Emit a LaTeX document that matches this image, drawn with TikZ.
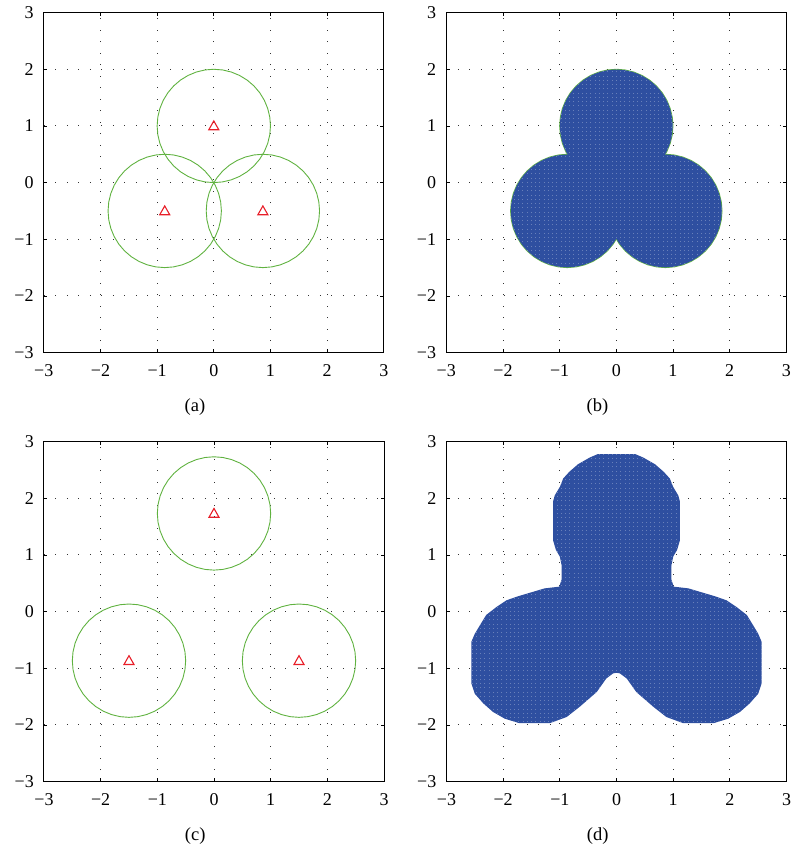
\documentclass[tikz,border=0pt]{standalone}
\usepackage{fontspec}
\setmainfont{Liberation Serif}
\definecolor{mgreen}{RGB}{96,178,64}
\definecolor{mred}{RGB}{232,30,40}
\definecolor{mblue}{RGB}{46,79,160}
\tikzset{
  gridline/.style={black!80, line width=0.9pt, dash pattern=on 0.9pt off 10.6pt},
  frame/.style={black, line width=1pt},
  tickmark/.style={black, line width=0.8pt},
  ticklbl/.style={font=\fontsize{18}{18}\selectfont, inner sep=0pt},
  sublabel/.style={font=\fontsize{18.5}{18.5}\selectfont, inner sep=0pt, anchor=base},
  circ/.style={mgreen, line width=0.9pt},
  tri/.style={mred, line width=1.1pt, line join=miter},
  blob/.style={fill=mblue, draw=none},
  texture/.style={white, opacity=0.28, line width=0.8pt, dash pattern=on 0.8pt off 3.45pt},
  panel/.style={x=56.67pt, y=56.67pt},
}
\newcommand\mygrid{%
  \foreach \i in {-2,...,2} {
    \draw[gridline] (\i,-3) -- (\i,3);
    \draw[gridline] (-3,\i) -- (3,\i);
  }
}
\newcommand\mytexture{%
  \foreach \j in {-40,...,40} {
    \draw[texture] (\j*0.075,-3) -- (\j*0.075,3);
  }
}
\newcommand\myframe[2]{%
  \foreach \i in {-2,...,2} {
    \draw[tickmark] (\i,-3) -- ++(0,3.4pt);
    \draw[tickmark] (\i,3) -- ++(0,-3.4pt);
    \draw[tickmark] (-3,\i) -- ++(3.4pt,0);
    \draw[tickmark] (3,\i) -- ++(-3.4pt,0);
  }
  \foreach \i/\t [count=\k] in {-3/−3,-2/−2,-1/−1,0/0,1/1,2/2,3/3} {
    \node[ticklbl, anchor=base, yshift=-24pt] (#1x\k) at (\i,-3) {\t};
    \node[ticklbl, anchor=base east, xshift=-10pt, yshift=-6pt] (#1y\k) at (-3,\i) {\t};
  }
  \draw[frame] (-3,-3) rectangle (3,3);
  \node[sublabel, xshift=-18.8pt, yshift=-58.5pt] (#1lab) at (0,-3) {#2};
}
\newcommand\mytri[2]{%
  \draw[tri] (#1,#2) +(0,5pt) -- +(5pt,-3.8pt) -- +(-5pt,-3.8pt) -- cycle;
}
\newcommand\blobb{(0,1) circle[radius=0.995] (-0.866,-0.5) circle[radius=0.995] (0.866,-0.5) circle[radius=0.995]}
\newcommand\blobd{(0,2.78) -- (0.33,2.78) -- (0.47,2.72) -- (0.68,2.60) -- (0.83,2.47) -- (0.94,2.35)
    -- (1.0,2.2) -- (1.09,2.05) -- (1.12,1.94) -- (1.12,1.26) -- (1.07,1.09) -- (1.0,0.97)
    -- (0.97,0.82) -- (0.97,0.56) -- (1.01,0.44) -- (1.27,0.41) -- (1.47,0.35) -- (1.74,0.27)
    -- (1.94,0.2) -- (2.12,0.08) -- (2.3,-0.06) -- (2.41,-0.24) -- (2.5,-0.39) -- (2.56,-0.53)
    -- (2.56,-1.27) -- (2.5,-1.45) -- (2.35,-1.62) -- (2.18,-1.77) -- (1.97,-1.89) -- (1.71,-1.97)
    -- (1.18,-1.97) -- (0.88,-1.86) -- (0.65,-1.68) -- (0.35,-1.42) -- (0.18,-1.18) -- (0.06,-1.09)
    -- (0,-1.08)
    -- (-0.06,-1.09) -- (-0.18,-1.18) -- (-0.35,-1.42) -- (-0.65,-1.68) -- (-0.88,-1.86) -- (-1.18,-1.97)
    -- (-1.71,-1.97) -- (-1.97,-1.89) -- (-2.18,-1.77) -- (-2.35,-1.62) -- (-2.5,-1.45) -- (-2.56,-1.27)
    -- (-2.56,-0.53) -- (-2.5,-0.39) -- (-2.41,-0.24) -- (-2.3,-0.06) -- (-2.12,0.08) -- (-1.94,0.2)
    -- (-1.74,0.27) -- (-1.47,0.35) -- (-1.27,0.41) -- (-1.01,0.44) -- (-0.97,0.56) -- (-0.97,0.82)
    -- (-1.0,0.97) -- (-1.07,1.09) -- (-1.12,1.26) -- (-1.12,1.94) -- (-1.09,2.05) -- (-1.0,2.2)
    -- (-0.94,2.35) -- (-0.83,2.47) -- (-0.68,2.60) -- (-0.47,2.72) -- (-0.33,2.78) -- cycle}
\begin{document}
\begin{tikzpicture}
\useasboundingbox (0,0) rectangle (790pt,-848pt);

% (a)
\begin{scope}[shift={(213.8pt,-182.6pt)}, panel]
  \mygrid
  \foreach \cx/\cy in {0/1, -0.866/-0.5, 0.866/-0.5} {
    \draw[circ] plot[domain=0:360, samples=41, variable=\t] ({\cx+cos(\t)},{\cy+sin(\t)});
    \mytri{\cx}{\cy}
  }
  \myframe{a}{(a)}
\end{scope}

% (b)
\begin{scope}[shift={(616.3pt,-182.6pt)}, panel]
  \mygrid
  \foreach \cx/\cy in {0/1, -0.866/-0.5, 0.866/-0.5} {
    \draw[circ] plot[domain=0:360, samples=41, variable=\t] ({\cx+cos(\t)},{\cy+sin(\t)});
  }
  \fill[blob] \blobb;
  \begin{scope}
    \clip \blobb;
    \mytexture
  \end{scope}
  \myframe{b}{(b)}
\end{scope}

% (c)
\begin{scope}[shift={(214pt,-611.6pt)}, panel]
  \mygrid
  \foreach \cx/\cy in {0/1.732, -1.5/-0.866, 1.5/-0.866} {
    \draw[circ] plot[domain=0:360, samples=41, variable=\t] ({\cx+cos(\t)},{\cy+sin(\t)});
    \mytri{\cx}{\cy}
  }
  \myframe{c}{(c)}
\end{scope}

% (d)
\begin{scope}[shift={(616.5pt,-611.6pt)}, panel]
  \mygrid
  \fill[blob] \blobd;
  \begin{scope}
    \clip \blobd;
    \mytexture
  \end{scope}
  \myframe{d}{(d)}
\end{scope}
\end{tikzpicture}
\end{document}
